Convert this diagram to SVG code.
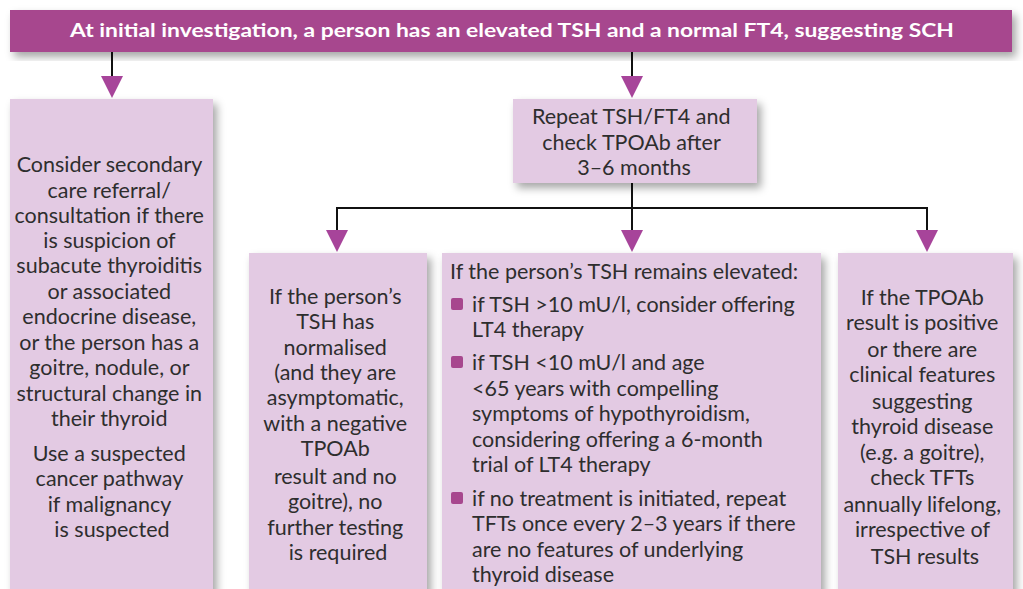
<svg xmlns="http://www.w3.org/2000/svg" width="1023" height="589" viewBox="0 0 1023 589">
<defs>
<filter id="sh" x="-10%" y="-10%" width="130%" height="130%">
<feDropShadow dx="4" dy="5" stdDeviation="4" flood-color="#000" flood-opacity="0.35"/>
</filter>
</defs>
<style>
.box{fill:#e3cae3;filter:url(#sh);}
.banner{fill:#a7478e;filter:url(#sh);}
.t{font-family:Lato,"Open Sans","Liberation Sans",sans-serif;font-size:21.5px;fill:#2e2e2e;}
.c{text-anchor:middle;}
.bt{font-family:Lato,"Open Sans","Liberation Sans",sans-serif;font-size:18px;font-weight:bold;fill:#fff;text-anchor:middle;}
.ln{stroke:#111;stroke-width:2;fill:none;}
.ah{fill:#a7449a;}
.bul{fill:#a7478e;}
</style>
<rect width="1023" height="589" fill="#fff"/>
<g id="connectors">
<line class="ln" x1="112" y1="52" x2="112" y2="76"/>
<path class="ah" d="M101,76 L123,76 L112,98 Z"/>
<line class="ln" x1="632" y1="52" x2="632" y2="76"/>
<path class="ah" d="M621,76 L643,76 L632,98 Z"/>
<line class="ln" x1="632" y1="183" x2="632" y2="230"/>
<polyline class="ln" points="337,230 337,208 927,208 927,230"/>
<path class="ah" d="M326,230 L348,230 L337,252 Z"/>
<path class="ah" d="M621,230 L643,230 L632,252 Z"/>
<path class="ah" d="M916,230 L938,230 L927,252 Z"/>
</g>
<g id="banner">
<rect class="banner" x="10" y="10" width="1002" height="42"/>
<text class="bt" x="512" y="37" textLength="884" lengthAdjust="spacingAndGlyphs">At initial investigation, a person has an elevated TSH and a normal FT4, suggesting SCH</text>
</g>
<g id="left">
<rect class="box" x="10" y="99" width="203" height="500"/>
<text class="t c">
<tspan x="112" y="172">Consider secondary</tspan>
<tspan x="112" y="198">care referral/</tspan>
<tspan x="112" y="223">consultation if there</tspan>
<tspan x="112" y="248">is suspicion of</tspan>
<tspan x="112" y="273">subacute thyroiditis</tspan>
<tspan x="112" y="299">or associated</tspan>
<tspan x="112" y="324">endocrine disease,</tspan>
<tspan x="112" y="350">or the person has a</tspan>
<tspan x="112" y="375">goitre, nodule, or</tspan>
<tspan x="112" y="401">structural change in</tspan>
<tspan x="112" y="426">their thyroid</tspan>
<tspan x="112" y="461">Use a suspected</tspan>
<tspan x="112" y="486">cancer pathway</tspan>
<tspan x="112" y="512">if malignancy</tspan>
<tspan x="112" y="537">is suspected</tspan>
</text>
</g>
<g id="repeat">
<rect class="box" x="513" y="99" width="244" height="84"/>
<text class="t c">
<tspan x="634" y="124">Repeat TSH/FT4 and</tspan>
<tspan x="634" y="150">check TPOAb after</tspan>
<tspan x="634" y="175">3–6 months</tspan>
</text>
</g>
<g id="normalised">
<rect class="box" x="249" y="253" width="178" height="346"/>
<text class="t c">
<tspan x="338" y="304">If the person’s</tspan>
<tspan x="338" y="329">TSH has</tspan>
<tspan x="338" y="355">normalised</tspan>
<tspan x="338" y="380">(and they are</tspan>
<tspan x="338" y="405">asymptomatic,</tspan>
<tspan x="338" y="431">with a negative</tspan>
<tspan x="338" y="456">TPOAb</tspan>
<tspan x="338" y="484">result and no</tspan>
<tspan x="338" y="509">goitre), no</tspan>
<tspan x="338" y="535">further testing</tspan>
<tspan x="338" y="560">is required</tspan>
</text>
</g>
<g id="elevated">
<rect class="box" x="442" y="253" width="379" height="346"/>
<text class="t">
<tspan x="450" y="279">If the person’s TSH remains elevated:</tspan>
<tspan x="472" y="312">if TSH &gt;10 mU/l, consider offering</tspan>
<tspan x="472" y="337">LT4 therapy</tspan>
<tspan x="472" y="370">if TSH &lt;10 mU/l and age</tspan>
<tspan x="472" y="396">&lt;65 years with compelling</tspan>
<tspan x="472" y="421">symptoms of hypothyroidism,</tspan>
<tspan x="472" y="447">considering offering a 6-month</tspan>
<tspan x="472" y="472">trial of LT4 therapy</tspan>
<tspan x="472" y="506">if no treatment is initiated, repeat</tspan>
<tspan x="472" y="531">TFTs once every 2–3 years if there</tspan>
<tspan x="472" y="557">are no features of underlying</tspan>
<tspan x="472" y="582">thyroid disease</tspan>
</text>
<rect class="bul" x="451" y="298" width="12" height="12" rx="2"/>
<rect class="bul" x="451" y="356" width="12" height="12" rx="2"/>
<rect class="bul" x="451" y="492" width="12" height="12" rx="2"/>
</g>
<g id="tpoab">
<rect class="box" x="838" y="253" width="175" height="346"/>
<text class="t c">
<tspan x="925" y="305">If the TPOAb</tspan>
<tspan x="925" y="330">result is positive</tspan>
<tspan x="925" y="357">or there are</tspan>
<tspan x="925" y="382">clinical features</tspan>
<tspan x="925" y="409">suggesting</tspan>
<tspan x="925" y="434">thyroid disease</tspan>
<tspan x="925" y="460">(e.g. a goitre),</tspan>
<tspan x="925" y="485">check TFTs</tspan>
<tspan x="925" y="512">annually lifelong,</tspan>
<tspan x="925" y="537">irrespective of</tspan>
<tspan x="925" y="564">TSH results</tspan>
</text>
</g>
</svg>
